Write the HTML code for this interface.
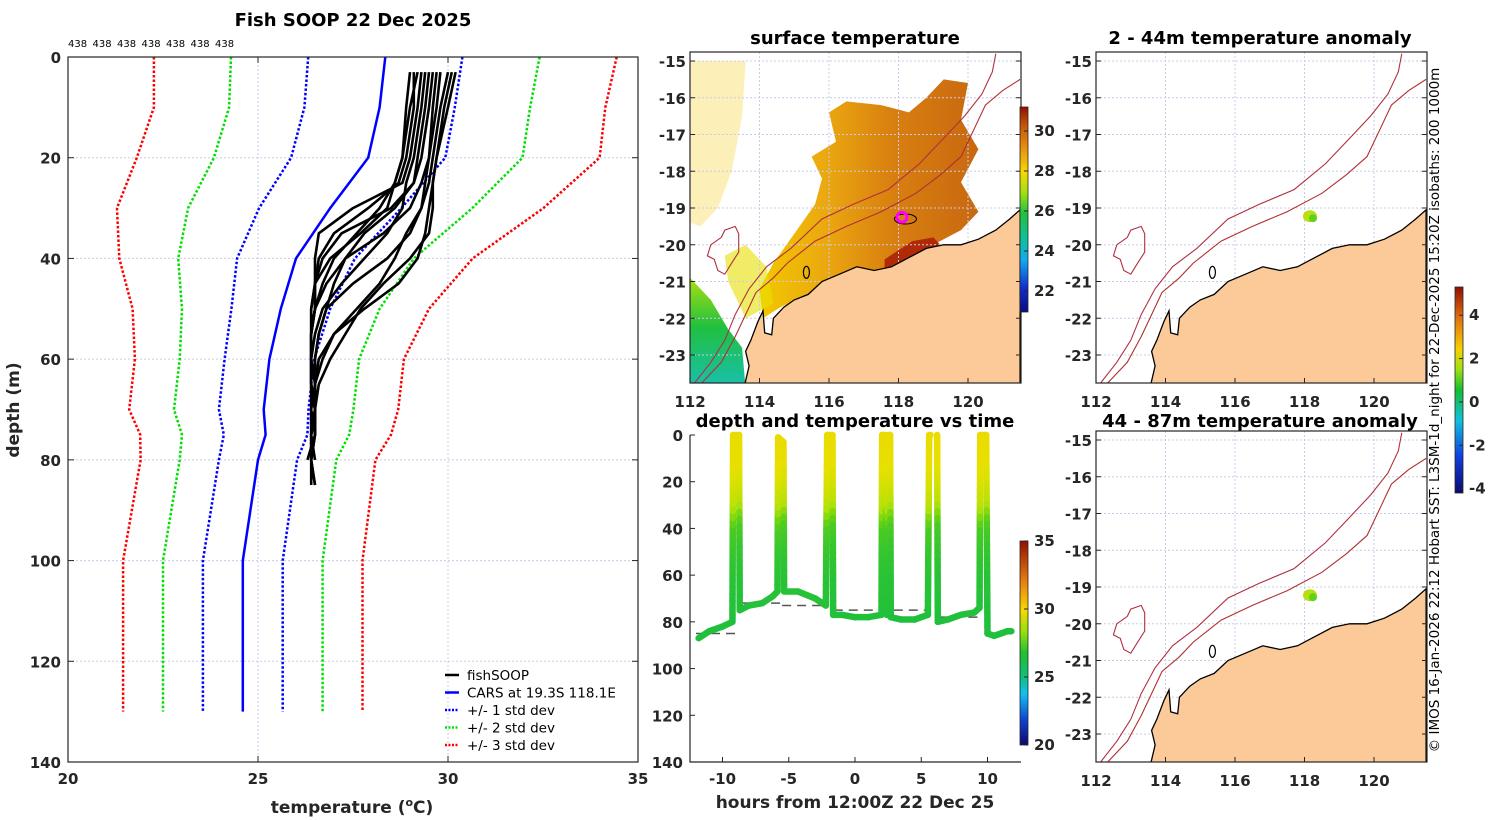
<!DOCTYPE html>
<html><head><meta charset="utf-8"><style>
html,body{margin:0;padding:0;background:#fff;}
svg{display:block;font-family:"DejaVu Sans","Liberation Sans",sans-serif;}
.tk{font-size:15px;font-weight:bold;fill:#262626;}
.ttl{font-size:18px;font-weight:bold;fill:#000;}
</style></head><body>
<svg id="fig" width="1500" height="820" viewBox="0 0 1500 820" xmlns="http://www.w3.org/2000/svg">
<defs>
<linearGradient id="sstbar" x1="0" y1="1" x2="0" y2="0">
<stop offset="0" stop-color="#0a0a80"/><stop offset="0.12" stop-color="#1030d0"/><stop offset="0.25" stop-color="#10a8f0"/><stop offset="0.35" stop-color="#10c0a0"/><stop offset="0.48" stop-color="#20c040"/><stop offset="0.58" stop-color="#a0e010"/><stop offset="0.68" stop-color="#f8d800"/><stop offset="0.8" stop-color="#e89010"/><stop offset="0.92" stop-color="#c05008"/><stop offset="1" stop-color="#901000"/>
</linearGradient>
<linearGradient id="tbar" x1="0" y1="1" x2="0" y2="0">
<stop offset="0" stop-color="#0a0a70"/><stop offset="0.12" stop-color="#1040d0"/><stop offset="0.25" stop-color="#10c0f0"/><stop offset="0.33" stop-color="#10c080"/><stop offset="0.45" stop-color="#20c030"/><stop offset="0.55" stop-color="#90e010"/><stop offset="0.66" stop-color="#f8d800"/><stop offset="0.8" stop-color="#e88010"/><stop offset="1" stop-color="#901000"/>
</linearGradient>
<linearGradient id="abar" x1="0" y1="1" x2="0" y2="0">
<stop offset="0" stop-color="#0a0a70"/><stop offset="0.18" stop-color="#1040e0"/><stop offset="0.35" stop-color="#10c0e0"/><stop offset="0.5" stop-color="#10c030"/><stop offset="0.6" stop-color="#a0e010"/><stop offset="0.7" stop-color="#f8d000"/><stop offset="0.85" stop-color="#e07010"/><stop offset="1" stop-color="#901000"/>
</linearGradient>
<linearGradient id="sstfill" x1="0" y1="0" x2="1" y2="0">
<stop offset="0" stop-color="#f2c800"/><stop offset="0.3" stop-color="#eba810"/><stop offset="0.6" stop-color="#d98010"/><stop offset="1" stop-color="#c86810"/>
</linearGradient>
<linearGradient id="greenfill" x1="0" y1="0" x2="0" y2="1">
<stop offset="0" stop-color="#a8e010"/><stop offset="0.45" stop-color="#20c040"/><stop offset="1" stop-color="#18c0b0"/>
</linearGradient>
</defs>
</svg>
<script>
// ---------- data ----------
const cmDepths = [0,10,20,30,40,50,60,70,75,80,100,130];
const carsMean = [28.35,28.2,27.9,26.9,26.0,25.6,25.3,25.15,25.2,25.0,24.6,24.6];
const carsStd  = [2.03,1.98,2.03,1.87,1.55,1.3,1.18,1.18,1.1,1.03,1.05,1.05];
const fishDepths = [3,10,20,25,30,35,40,45,50,55,60,65,70,75,80,85];
const fish1 = [29.3,29.2,29.0,28.8,27.5,26.6,26.5,26.5,26.4,26.4,26.4,26.4,26.5,26.4,26.4,26.5];
const fish2 = [29.5,29.4,29.2,29.1,28.5,27.2,26.7,26.5,26.4,26.4,26.4,26.4,26.5,26.4,26.4,null];
const fish3 = [29.7,29.6,29.5,29.3,29.0,28.3,27.3,26.8,26.5,26.4,26.4,26.5,26.5,26.4,26.5,null];
const fish4 = [30.0,29.8,29.6,29.5,29.3,29.0,28.4,27.5,26.8,26.6,26.5,26.5,26.4,26.4,null,null];
const fish5 = [30.2,30.0,29.7,29.6,29.5,29.4,29.2,28.7,27.8,27.0,26.6,26.5,26.5,26.4,null,null];
const fish6 = [29.1,29.1,28.9,28.7,27.9,27.0,26.6,26.5,26.5,26.4,26.4,26.4,26.5,26.5,26.3,null];
const fish7 = [29.4,29.3,29.1,28.9,28.8,28.4,27.8,27.2,26.7,26.5,26.4,26.4,26.5,26.5,26.4,26.5];
const fish8 = [29.8,29.7,29.5,29.4,29.3,28.9,28.6,28.2,27.6,27.0,26.7,26.5,26.5,26.4,null,null];
const fish9 = [29.2,29.0,28.8,28.6,28.2,27.6,27.0,26.7,26.5,26.4,26.4,26.4,26.4,26.5,26.4,null];
const fish10 = [30.1,29.9,29.7,29.6,29.6,29.5,29.0,28.3,27.7,27.3,26.9,26.6,26.5,26.5,null,null];
const fish11 = [29.6,29.5,29.3,29.1,28.6,27.8,27.3,27.0,26.8,26.6,26.5,26.5,26.5,26.5,26.4,null];
const fish12 = [29.0,28.9,28.8,28.6,28.4,27.7,26.9,26.5,26.5,26.4,26.4,26.4,26.4,26.4,26.4,26.4];
const tempTicks = [20,25,30,35];
const depthTicks = [0,20,40,60,80,100,120,140];
const countLabels = ["438","438","438","438","438","438","438"];
// time series
const trackT = [-11.8,-11,-10,-9.25,-9.2,-8.75,-8.7,-8,-7,-6.2,-5.85,-5.8,-5.4,-5.35,-4.3,-3,-2.2,-2.1,-1.7,-1.65,-1,0,1,2.0,2.05,2.3,2.4,2.5,2.65,2.7,3.5,4.5,5.5,5.6,5.7,NaN,6.2,6.25,7,8,9,9.4,9.45,9.9,10,10.5,11,11.5,11.8];
const trackD = [87,84,82,80,0,0,75,73,72,69,67,1,3,67,67,70,73,0,0,77,77,78,78,77,0,0,77,0,0,78,79,79,77,0,0,NaN,0,80,79,77,76,74,0,0,85,86,85,84,84];
const profDepth = [0,10,20,30,35,40,50,60,80,90];
const profTemp = [29.7,29.6,29.3,28.8,28.0,27.3,26.9,26.7,26.5,26.4];
const bottomStart = [-12,-8.6,-5.5,-1.6,6.3,10];
const bottomEnd = [-8.8,-5.5,-2.0,5.7,9.5,12];
const bottomDepth = [85,72,73,75,78,85];
const hourTicks = [-10,-5,0,5,10];
const lonTicks = [112,114,116,118,120];
const latTicks = [-15,-16,-17,-18,-19,-20,-21,-22,-23];
const sstTicks = [22,24,26,28,30];
const tbarTicks = [20,25,30,35];
const anomTicks = [-4,-2,0,2,4];
const shipLon = [118.1];
const shipLat = [-19.25];

// ---------- helpers ----------
const NS = "http://www.w3.org/2000/svg";
const svg = document.getElementById('fig');
function mk(tag, attrs, parent){const e=document.createElementNS(NS,tag);for(const k in attrs)e.setAttribute(k,attrs[k]);(parent||svg).appendChild(e);return e;}
function txt(s, attrs, parent){const e=mk('text',attrs,parent);e.textContent=s;return e;}

// ---------- left profile panel ----------
const L={x0:68,x1:638,y0:57,y1:762};
const xT=t=>L.x0+(t-20)/15*(L.x1-L.x0);
const yD=d=>L.y0+d/140*(L.y1-L.y0);
let g=mk('g',{});


for(const t of tempTicks){ if(t>20&&t<35){ let l=mk('line',{x1:xT(t),x2:xT(t),y1:L.y0,y2:L.y1,stroke:'#c8cce8','stroke-width':1,'stroke-dasharray':'2,2'},g);   } }
for(const d of depthTicks){ if(d>0&&d<140){ let l=mk('line',{x1:L.x0,x2:L.x1,y1:yD(d),y2:yD(d),stroke:'#c8cce8','stroke-width':1,'stroke-dasharray':'2,2'},g);   } }
function profLine(vals,k,color,dash,name,w){
  const pts=cmDepths.map((d,i)=>xT(vals[i]+k*carsStd[i]).toFixed(1)+','+yD(d).toFixed(1)).join(' ');
  let p=mk('polyline',{points:pts,fill:'none',stroke:color,'stroke-width':w||2.5,'stroke-dasharray':dash||'none'},g);
  
  
}
profLine(carsMean,-3,'#ff0000','2.5,2','minus-3-std-line');
profLine(carsMean,3,'#ff0000','2.5,2','plus-3-std-line');
profLine(carsMean,-2,'#00e000','2.5,2','minus-2-std-line');
profLine(carsMean,2,'#00e000','2.5,2','plus-2-std-line');
profLine(carsMean,-1,'#0000ff','2.5,2','minus-1-std-line');
profLine(carsMean,1,'#0000ff','2.5,2','plus-1-std-line');
profLine(carsMean,0,'#0000ff',null,'cars-mean-line',2.5);
const fishAll=[fish1,fish2,fish3,fish4,fish5,fish6,fish7,fish8,fish9,fish10,fish11,fish12];
fishAll.forEach((arr,j)=>{
  const pts=[];arr.forEach((t,i)=>{if(t!==null)pts.push(xT(t).toFixed(1)+','+yD(fishDepths[i]).toFixed(1));});
  let p=mk('polyline',{points:pts.join(' '),fill:'none',stroke:'#000','stroke-width':2.6,'stroke-linejoin':'round'},g);
  
  
});
let fr=mk('rect',{x:L.x0,y:L.y0,width:L.x1-L.x0,height:L.y1-L.y0,fill:'none',stroke:'#262626','stroke-width':1.2},g);


for(const t of tempTicks){
  mk('line',{x1:xT(t),x2:xT(t),y1:L.y1,y2:L.y1-6,stroke:'#262626'},g);
  mk('line',{x1:xT(t),x2:xT(t),y1:L.y0,y2:L.y0+6,stroke:'#262626'},g);
  let tl=txt(String(t),{x:xT(t),y:784,'text-anchor':'middle',class:'tk'},g);
  
  
}
for(const d of depthTicks){
  mk('line',{x1:L.x0,x2:L.x0+6,y1:yD(d),y2:yD(d),stroke:'#262626'},g);
  mk('line',{x1:L.x1,x2:L.x1-6,y1:yD(d),y2:yD(d),stroke:'#262626'},g);
  let tl=txt(String(d),{x:61,y:yD(d)+6,'text-anchor':'end',class:'tk'},g);
  
  
}
countLabels.forEach((s,i)=>{let c=txt(s,{x:68+i*24.5,y:47,'font-size':10,fill:'#000'},g);});
let t1=txt('Fish SOOP 22 Dec 2025',{x:353,y:26,'text-anchor':'middle',class:'ttl'},g);


let yl=txt('depth (m)',{x:0,y:0,transform:'translate(19,410) rotate(-90)','text-anchor':'middle','font-size':17,'font-weight':'bold',fill:'#262626'},g);


let xl=mk('text',{x:352,y:813,'text-anchor':'middle','font-size':17,'font-weight':'bold',fill:'#262626'},g);
xl.innerHTML='temperature (<tspan dy="-7" font-size="11">o</tspan><tspan dy="7">C)</tspan>';


// legend
const legItems=[['fishSOOP','#000',null],['CARS at 19.3S 118.1E','#0000ff',null],['+/- 1 std dev','#0000ff','2,1.5'],['+/- 2 std dev','#00e000','2,1.5'],['+/- 3 std dev','#ff0000','2,1.5']];
let lg=mk('g',{},g);


legItems.forEach((it,i)=>{
  const y=675+i*17.5;
  let e=mk('g',{},lg);
  
  
  mk('line',{x1:445,x2:459,y1:y,y2:y,stroke:it[1],'stroke-width':2.5,'stroke-dasharray':it[2]||'none'},e);
  txt(it[0],{x:467,y:y+5,'font-size':13.5,fill:'#000'},e);
});

// ---------- maps ----------
const land=[[113.55,-23.9],[113.7,-23.3],[113.6,-22.9],[113.75,-22.6],[113.95,-22.1],[114.1,-21.8],[114.15,-22.4],[114.35,-22.45],[114.4,-22.0],[114.7,-21.7],[115.0,-21.5],[115.4,-21.35],[115.8,-21.0],[116.3,-20.8],[116.8,-20.6],[117.3,-20.7],[117.8,-20.6],[118.3,-20.35],[118.8,-20.1],[119.3,-20.0],[119.8,-20.0],[120.3,-19.85],[120.8,-19.6],[121.2,-19.3],[121.5,-19.05],[121.5,-23.9]];
const iso200=[[112.3,-23.8],[112.9,-23.2],[113.3,-22.5],[113.6,-21.9],[113.9,-21.3],[114.4,-20.9],[114.8,-20.5],[115.6,-19.9],[116.5,-19.5],[117.5,-19.1],[118.5,-18.6],[119.2,-18.1],[119.8,-17.6],[120.2,-16.8],[120.5,-16.2],[121.0,-15.8],[121.5,-15.5]];
const iso1000=[[112.1,-23.8],[112.6,-23.2],[113.0,-22.6],[113.3,-21.9],[113.7,-21.2],[114.2,-20.6],[114.9,-20.1],[115.8,-19.3],[116.7,-18.9],[117.7,-18.5],[118.6,-17.8],[119.3,-17.1],[119.9,-16.5],[120.4,-15.9],[120.7,-15.3],[120.8,-14.8]];
const island=[[112.6,-20.0],[112.9,-19.8],[113.0,-19.6],[113.3,-19.5],[113.4,-19.7],[113.4,-20.2],[113.2,-20.5],[113.0,-20.8],[112.8,-20.7],[112.7,-20.4],[112.5,-20.3]];
function drawMap(x0,yTop,name,kind){
  const x1=1021+(x0-690), yBot=yTop+331;
  const mx=lon=>x0+(lon-112)*34.75, my=lat=>yTop+9+(-15-lat)*36.75;
  const pts=a=>a.map(p=>mx(p[0]).toFixed(1)+','+my(p[1]).toFixed(1)).join(' ');
  let mg=mk('g',{},svg);
  
  
  const cid='clip'+name; const cp=mk('clipPath',{id:cid},mg); mk('rect',{x:x0,y:yTop,width:x1-x0,height:yBot-yTop},cp);
  const inner=mk('g',{'clip-path':'url(#'+cid+')'},mg);
  if(kind==='sst'){
    let f1=mk('polygon',{points:pts([[112,-15],[113.6,-15],[113.5,-16.5],[113.2,-18],[112.8,-19],[112.3,-19.5],[112,-19.4]]),fill:'#f6d030',opacity:0.35},inner);
     
    let f2=mk('polygon',{points:pts([[114.1,-22.0],[114.0,-21.2],[114.4,-20.5],[115.0,-19.7],[115.6,-18.9],[115.8,-18.2],[115.5,-17.6],[116.2,-17.2],[116.0,-16.4],[116.5,-16.1],[117.5,-16.2],[118.3,-16.4],[118.8,-16.0],[119.3,-15.5],[120.0,-15.6],[119.8,-16.6],[120.3,-17.4],[119.8,-18.3],[120.3,-19.1],[119.8,-19.6],[118.8,-20.1],[117.5,-20.7],[115.5,-21.3],[114.6,-21.7]]),fill:'url(#sstfill)'},inner);
     
    let f3=mk('polygon',{points:pts([[117.6,-20.4],[118.4,-19.9],[119.0,-19.8],[119.3,-20.1],[118.3,-20.5],[117.6,-20.8]]),fill:'#b02a08'},inner);
     
    let f5=mk('polygon',{points:pts([[113.0,-20.3],[113.6,-20.0],[114.2,-20.6],[114.4,-21.6],[113.6,-22.0],[113.1,-21.0]]),fill:'#e8e000',opacity:0.6},inner);
     
    let f4=mk('polygon',{points:pts([[112,-20.9],[112.6,-21.5],[113.1,-22.3],[113.5,-22.8],[113.6,-23.9],[112,-23.9]]),fill:'url(#greenfill)'},inner);
     
  }
  // grid
  for(const lo of lonTicks){ if(lo>112) mk('line',{x1:mx(lo),x2:mx(lo),y1:yTop,y2:yBot,stroke:'#c8cce8','stroke-dasharray':'2,2'},inner); }
  for(const la of latTicks){ mk('line',{x1:x0,x2:x1,y1:my(la),y2:my(la),stroke:'#c8cce8','stroke-dasharray':'2,2'},inner); }
  let ld=mk('polygon',{points:pts(land),fill:'#fbca98',stroke:'#000','stroke-width':1.3},inner);
  
  
  let i1=mk('polyline',{points:pts(iso200),fill:'none',stroke:'#b03030','stroke-width':1.1},inner);
  
  
  let i2=mk('polyline',{points:pts(iso1000),fill:'none',stroke:'#b03040','stroke-width':1.1},inner);
  
  
  let isl=mk('polygon',{points:pts(island),fill:'none',stroke:'#b03040','stroke-width':1.1},inner);
  
  
  mk('ellipse',{cx:mx(115.35),cy:my(-20.75),rx:3,ry:6,fill:'none',stroke:'#000','stroke-width':1.2},inner);
  if(kind==='sst'){
    mk('ellipse',{cx:mx(118.2),cy:my(-19.3),rx:11,ry:5,fill:'none',stroke:'#000','stroke-width':1},inner);
    let sh=mk('circle',{cx:mx(shipLon[0]),cy:my(shipLat[0]),r:5,fill:'none',stroke:'#ff00ff','stroke-width':3},inner);
    
    
  } else {
    let bl=mk('ellipse',{cx:mx(shipLon[0])+2,cy:my(shipLat[0])-1,rx:7,ry:6,fill:'#b8e010'},inner);
    
    
    mk('circle',{cx:mx(shipLon[0])+5,cy:my(shipLat[0])+1,r:4,fill:'#60d020'},inner);
  }
  let fb=mk('rect',{x:x0,y:yTop,width:x1-x0,height:yBot-yTop,fill:'none',stroke:'#262626','stroke-width':1.2},mg);
  
  
  for(const lo of lonTicks){
    mk('line',{x1:mx(lo),x2:mx(lo),y1:yBot,y2:yBot-5,stroke:'#262626'},mg);
    let tl=txt(String(lo),{x:mx(lo),y:yBot+24,'text-anchor':'middle',class:'tk'},mg);
    
    
  }
  for(const la of latTicks){
    mk('line',{x1:x0,x2:x0+5,y1:my(la),y2:my(la),stroke:'#262626'},mg);
    mk('line',{x1:x1,x2:x1-5,y1:my(la),y2:my(la),stroke:'#262626'},mg);
    let tl=txt(String(la),{x:x0-4,y:my(la)+6,'text-anchor':'end',class:'tk'},mg);
    
    
  }
}
drawMap(690,52,'surface-temperature-map','sst');
drawMap(1096,52,'anomaly-map-2-44m','anom');
drawMap(1096,431,'anomaly-map-44-87m','anom');
[['surface temperature',855,44],['2 - 44m temperature anomaly',1260,44],['44 - 87m temperature anomaly',1260,427],['depth and temperature vs time',855,427]].forEach(a=>{
  let t=txt(a[0],{x:a[1],y:a[2],'text-anchor':'middle',class:'ttl'});
  
  
});

// colorbars
function cbar(x,yTop,yBot,grad,vmin,vmax,ticks,name){
  let cg=mk('g',{});
  
  
  mk('rect',{x:x,y:yTop,width:8,height:yBot-yTop,fill:'url(#'+grad+')',stroke:'#262626','stroke-width':0.8},cg);
  const cy=v=>yBot-(v-vmin)/(vmax-vmin)*(yBot-yTop);
  for(const v of ticks){
    mk('line',{x1:x+8,x2:x+4,y1:cy(v),y2:cy(v),stroke:'#262626'},cg);
    let tl=txt(String(v),{x:x+14,y:cy(v)+5,class:'tk','font-size':13},cg);
    
    
  }
}
cbar(1020,107,312,'sstbar',20.95,31.2,sstTicks,'sst-colorbar');
cbar(1020,541,745,'tbar',20,35,tbarTicks,'time-temperature-colorbar');
cbar(1455,287,493,'abar',-4.2,5.3,anomTicks,'anomaly-colorbar');

// ---------- time series ----------
const T={x0:690,x1:1021,y0:435,y1:762};
const xH=h=>855+h*13.25;
const yM=d=>T.y0+d/140*(T.y1-T.y0);
function tempAt(d){for(let i=1;i<profDepth.length;i++){if(d<=profDepth[i]){const f=(d-profDepth[i-1])/(profDepth[i]-profDepth[i-1]);return profTemp[i-1]+f*(profTemp[i]-profTemp[i-1]);}}return profTemp[profTemp.length-1];}
const cStops=[[20,[10,10,112]],[22,[16,64,208]],[24,[16,192,240]],[25,[16,192,128]],[26.5,[32,192,60]],[27.8,[100,210,20]],[28.6,[170,225,10]],[29.5,[230,225,0]],[30.5,[248,200,0]],[32,[232,128,16]],[35,[144,16,0]]];
function tcol(t){for(let i=1;i<cStops.length;i++){if(t<=cStops[i][0]){const a=cStops[i-1],b=cStops[i],f=(t-a[0])/(b[0]-a[0]);return 'rgb('+a[1].map((v,k)=>Math.round(v+f*(b[1][k]-v))).join(',')+')';}}return 'rgb(144,16,0)';}
let tg=mk('g',{});


for(let i=0;i<bottomDepth.length;i++){
  let l=mk('line',{x1:xH(bottomStart[i]),x2:xH(bottomEnd[i]),y1:yM(bottomDepth[i]),y2:yM(bottomDepth[i]),stroke:'#555','stroke-width':1.5,'stroke-dasharray':'9,6'},tg);
  
  
}
let trk=mk('g',{},tg);


for(let i=1;i<trackT.length;i++){
  const ta=trackT[i-1],tb=trackT[i],da=trackD[i-1],db=trackD[i];
  if(isNaN(ta)||isNaN(tb))continue;
  const n=Math.max(1,Math.ceil(Math.abs(db-da)/3));
  for(let k=0;k<n;k++){
    const f0=k/n,f1=(k+1)/n;
    const d0=da+f0*(db-da),d1=da+f1*(db-da);
    mk('line',{x1:xH(ta+f0*(tb-ta)),x2:xH(ta+f1*(tb-ta)),y1:yM(d0),y2:yM(d1),stroke:tcol(tempAt((d0+d1)/2)),'stroke-width':6.5,'stroke-linecap':'round'},trk);
  }
}
mk('polyline',{points:T.x0+','+T.y0+' '+T.x0+','+T.y1+' '+T.x1+','+T.y1,fill:'none',stroke:'#262626','stroke-width':1.2},tg);
for(const h of hourTicks){
  mk('line',{x1:xH(h),x2:xH(h),y1:T.y1,y2:T.y1-5,stroke:'#262626'},tg);
  let tl=txt(String(h),{x:xH(h),y:784,'text-anchor':'middle',class:'tk'},tg);
  
  
}
for(const d of depthTicks){
  mk('line',{x1:T.x0,x2:T.x0+5,y1:yM(d),y2:yM(d),stroke:'#262626'},tg);
  let tl=txt(String(d),{x:683,y:yM(d)+6,'text-anchor':'end',class:'tk'},tg);
  
  
}
let hx=txt('hours from 12:00Z 22 Dec 25',{x:855,y:808,'text-anchor':'middle','font-size':17,'font-weight':'bold',fill:'#262626'},tg);


let cr=txt('© IMOS 16-Jan-2026 22:12 Hobart SST: L3SM-1d_night for 22-Dec-2025 15:20Z isobaths: 200  1000m',{x:0,y:0,transform:'translate(1439,410) rotate(-90)','text-anchor':'middle','font-size':13.5,fill:'#000'});


</script>
</body></html>
